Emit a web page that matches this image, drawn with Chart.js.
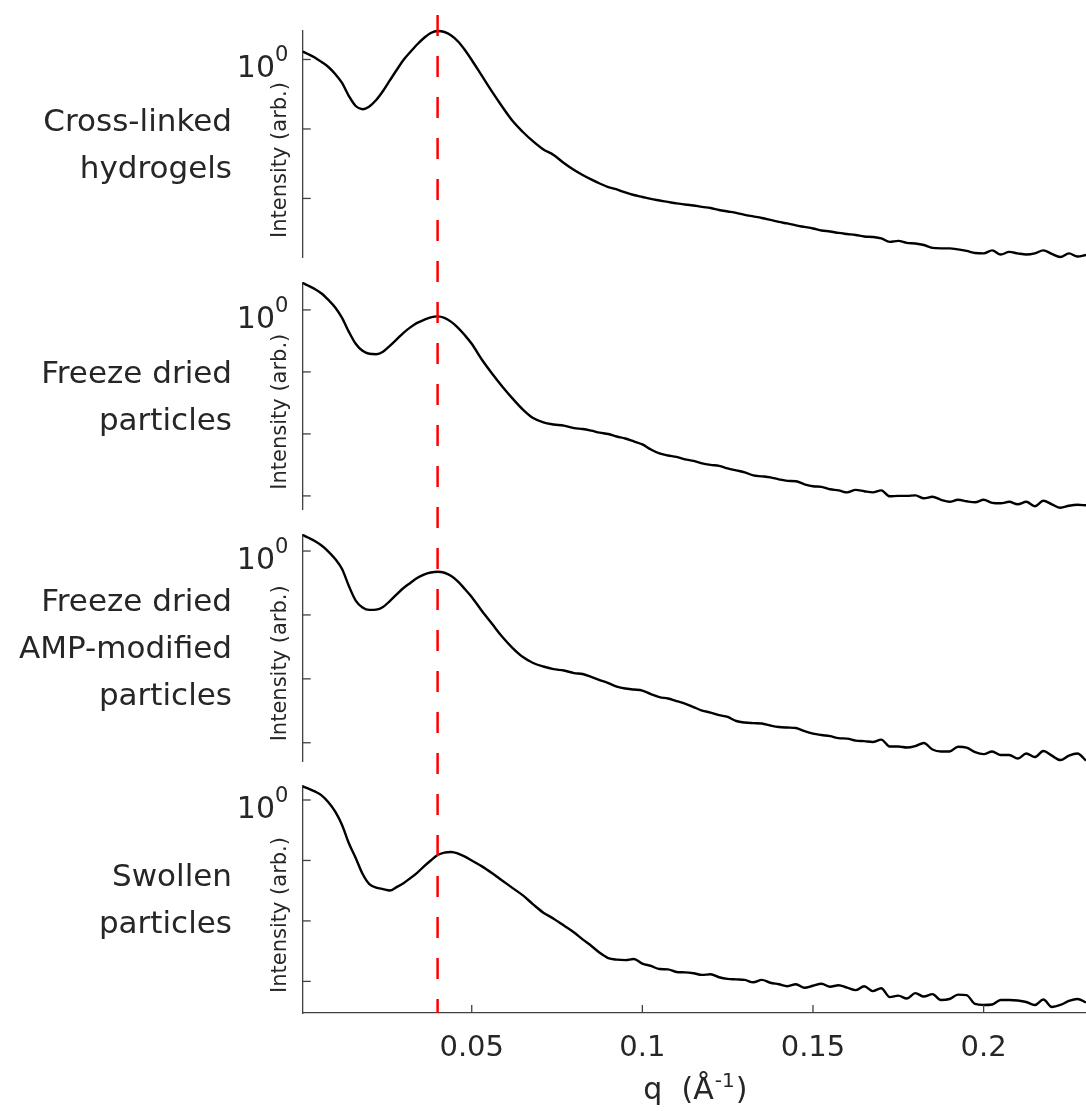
<!DOCTYPE html>
<html>
<head>
<meta charset="utf-8">
<script src="https://cdn.jsdelivr.net/npm/chart.js@4.4.1/dist/chart.umd.min.js"></script>
<style>
html,body{margin:0;padding:0;background:#fff;}
canvas{display:block;}
</style>
</head>
<body>
<canvas id="c" width="1086" height="1111"></canvas>
<script>
// ---- data ----
const q = [0.0005, 0.002, 0.004, 0.006, 0.008, 0.010, 0.012, 0.014, 0.016, 0.018, 0.020, 0.022, 0.024, 0.026, 0.028, 0.030, 0.032, 0.034, 0.036, 0.038, 0.040, 0.042, 0.044, 0.046, 0.048, 0.050,
  0.053, 0.056, 0.059, 0.062, 0.065, 0.068, 0.071, 0.074, 0.077, 0.080,
  0.0825, 0.085, 0.0875, 0.090, 0.0925, 0.095, 0.0975, 0.100, 0.1025, 0.105, 0.1075, 0.110, 0.1125, 0.115, 0.1175, 0.120, 0.1225, 0.125, 0.1275, 0.130,
  0.1325, 0.135, 0.1375, 0.140, 0.1425, 0.145, 0.1475, 0.150, 0.1525, 0.155, 0.1575, 0.160, 0.1625, 0.165, 0.1675, 0.170, 0.1725, 0.175, 0.1775, 0.180,
  0.1825, 0.185, 0.1875, 0.190, 0.1925, 0.195, 0.1975, 0.200, 0.2025, 0.205, 0.2075, 0.210, 0.2125, 0.215, 0.2175, 0.220, 0.2225, 0.225, 0.2275, 0.230];

const crossLinked = [1.295, 1.200, 1.069, 0.920, 0.780, 0.618, 0.459, 0.298, 0.214, 0.192, 0.211, 0.261, 0.352, 0.499, 0.706, 0.984, 1.282, 1.644, 2.039, 2.406, 2.571, 2.487, 2.214, 1.816, 1.370, 0.984,
  0.579, 0.341, 0.207, 0.130, 0.0905, 0.0661, 0.0507, 0.0423, 0.0324, 0.0257,
  0.0218, 0.0188, 0.0164, 0.0146, 0.0135, 0.0122, 0.0112, 0.0105, 0.00984, 0.00936,
  0.00891, 0.00848, 0.00820, 0.00793, 0.00755, 0.00730, 0.00683, 0.00650, 0.00619, 0.00579,
  0.00551, 0.00524, 0.00491, 0.00459, 0.00437, 0.00409, 0.00389, 0.00370, 0.00346, 0.00335,
  0.00319, 0.00308, 0.00298, 0.00284, 0.00279, 0.00266, 0.00237, 0.00245, 0.00229, 0.00225,
  0.00214, 0.00194, 0.00191, 0.00191, 0.00185, 0.00176, 0.00164, 0.00162, 0.00179, 0.00156,
  0.00170, 0.00162, 0.00156, 0.00162, 0.00179, 0.00159, 0.00144, 0.00162, 0.00146, 0.00154];

const freezeDried = [2.717, 2.477, 2.176, 1.842, 1.448, 1.097, 0.744, 0.443, 0.284, 0.219, 0.196, 0.193, 0.211, 0.264, 0.335, 0.427, 0.523, 0.618, 0.691, 0.758, 0.786, 0.744, 0.641, 0.514, 0.389, 0.284,
  0.157, 0.0935, 0.0578, 0.0371, 0.0247, 0.0180, 0.0153, 0.0142, 0.0136, 0.0124,
  0.0120, 0.0113, 0.0105, 0.00996, 0.00908, 0.00843, 0.00755, 0.00676, 0.00561, 0.00484,
  0.00449, 0.00425, 0.00388, 0.00367, 0.00334, 0.00316, 0.00305, 0.00278, 0.00258, 0.00240,
  0.00214, 0.00207, 0.00199, 0.00185, 0.00175, 0.00172, 0.00154, 0.00143, 0.00140, 0.00128,
  0.00123, 0.00114, 0.00125, 0.00119, 0.00114, 0.00123, 0.000985, 0.00100, 0.00100, 0.00102,
  0.000915, 0.000967, 0.000866, 0.000804, 0.000866, 0.000819, 0.000789, 0.000866, 0.000774, 0.000760,
  0.000804, 0.000733, 0.000804, 0.000681, 0.000834, 0.000733, 0.000644, 0.000693, 0.000719, 0.000706];

const freezeDriedAMP = [1.780, 1.627, 1.434, 1.219, 0.982, 0.750, 0.523, 0.283, 0.168, 0.131, 0.120, 0.121, 0.133, 0.165, 0.209, 0.264, 0.316, 0.378, 0.429, 0.461, 0.474, 0.457, 0.406, 0.333, 0.254, 0.191,
  0.115, 0.0720, 0.0451, 0.0303, 0.0219, 0.0177, 0.0156, 0.0142, 0.0135, 0.0123,
  0.0119, 0.0107, 0.00958, 0.00860, 0.00758, 0.00705, 0.00680, 0.00656, 0.00578, 0.00519,
  0.00492, 0.00449, 0.00411, 0.00362, 0.00319, 0.00297, 0.00271, 0.00253, 0.00219, 0.00207,
  0.00203, 0.00200, 0.00186, 0.00176, 0.00173, 0.00170, 0.00152, 0.00139, 0.00132, 0.00127,
  0.00118, 0.00116, 0.00108, 0.00106, 0.00103, 0.00112, 0.000872, 0.000872, 0.000841, 0.000888,
  0.000989, 0.000783, 0.000729, 0.000729, 0.000866, 0.000841, 0.000715, 0.000665, 0.000729, 0.000642,
  0.000642, 0.000566, 0.000678, 0.000597, 0.000742, 0.000630, 0.000536, 0.000630, 0.000678, 0.000526];

const swollen = [1.673, 1.552, 1.386, 1.193, 0.917, 0.642, 0.387, 0.193, 0.110, 0.0602, 0.0406, 0.0356, 0.0336, 0.0318, 0.0363, 0.0421, 0.0509, 0.0625, 0.0798, 0.100, 0.123, 0.135, 0.138, 0.130, 0.116, 0.100,
  0.0798, 0.0614, 0.0463, 0.0349, 0.0264, 0.0188, 0.0137, 0.0109, 0.00838, 0.00644,
  0.00495, 0.00388, 0.00298, 0.00243, 0.00229, 0.00225, 0.00234, 0.00197, 0.00180, 0.00160,
  0.00158, 0.00143, 0.00141, 0.00136, 0.00128, 0.00131, 0.00117, 0.00110, 0.00108, 0.00106,
  0.000967, 0.00106, 0.000949, 0.000897, 0.000832, 0.000897, 0.000786, 0.000848, 0.000914, 0.000816,
  0.000864, 0.000786, 0.000716, 0.000832, 0.000690, 0.000772, 0.000550, 0.000582, 0.000520, 0.000639,
  0.000561, 0.000616, 0.000492, 0.000511, 0.000605, 0.000593, 0.000423, 0.000407, 0.000415, 0.000492,
  0.000492, 0.000483, 0.000456, 0.000407, 0.000501, 0.000378, 0.000407, 0.000474, 0.000511, 0.000448];

const panelLabels = [
  ["Cross-linked", "hydrogels"],
  ["Freeze dried", "particles"],
  ["Freeze dried", "AMP-modified", "particles"],
  ["Swollen", "particles"]
];
const yTitle = "Intensity (arb.)";
const xTitleMain = "q  (\u00C5";
const xTitleSup = "-1";
const xTitleEnd = ")";
const xTicks = [0.05, 0.1, 0.15, 0.2];
const xTickLabels = ["0.05", "0.1", "0.15", "0.2"];
const yDecades = [1, 0.1, 0.01, 0.001];
const yLabelBase = "10";
const yLabelExp = "0";
const peakQ = [0.04];
const xRange = [0.00047, 0.23];
const yRanges = [[0.00139, 2.57], [0.000615, 2.75], [0.000512, 1.825], [0.000338, 1.704]];

// ---- styling ----
const FONT = '"DejaVu Sans", Verdana, sans-serif';
const TXT = '#262626';
const AX = '#404040';
const series = [crossLinked, freezeDried, freezeDriedAMP, swollen];
const yIds = ['y1', 'y2', 'y3', 'y4'];

const datasets = series.map((s, k) => ({
  data: q.map((x, i) => ({x: x, y: s[i]})),
  yAxisID: yIds[k],
  borderColor: '#000000',
  borderWidth: 2.4,
  pointRadius: 0,
  cubicInterpolationMode: 'monotone',
  fill: false,
  clip: false
}));

// left-positioned stacked scales are laid out in reverse order, so declare bottom panel first
const scales = {};
for (let k = yIds.length - 1; k >= 0; k--) {
  scales[yIds[k]] = {
    type: 'logarithmic', axis: 'y', position: 'left', stack: 'panels', stackWeight: 227,
    min: yRanges[k][0], max: yRanges[k][1],
    grid: {display: false},
    border: {display: true, color: AX, width: 1.3},
    ticks: {display: false},
    title: {display: false},
    afterFit: s => { s.width = 35.3; }
  };
  if (k > 0) {
    scales['gap' + k] = {type: 'linear', axis: 'y', position: 'left', stack: 'panels', stackWeight: 24.67, display: false};
  }
}
scales.x = {
  type: 'linear', position: 'bottom', min: xRange[0], max: xRange[1],
  grid: {display: false},
  border: {display: true, color: AX, width: 1.3},
  afterBuildTicks: s => { s.ticks = xTicks.map(v => ({value: v})); },
  ticks: {
    autoSkip: false, maxRotation: 0, minRotation: 0, padding: 10,
    color: TXT, font: {family: FONT, size: 29},
    callback: (v, i) => xTickLabels[i]
  },
  afterFit: s => { s.height = 98; }
};

const decor = {
  id: 'decor',
  afterDatasetsDraw(chart) {
    const ctx = chart.ctx, xs = chart.scales.x, area = chart.chartArea;
    ctx.save();
    ctx.strokeStyle = '#ff0000';
    ctx.lineWidth = 2.5;
    ctx.setLineDash([21, 20]);
    ctx.lineDashOffset = 0;
    peakQ.forEach(v => {
      const x = xs.getPixelForValue(v);
      ctx.beginPath();
      ctx.moveTo(x, area.top - 16);
      ctx.lineTo(x, area.bottom);
      ctx.stroke();
    });
    ctx.restore();
  },
  afterDraw(chart) {
    const ctx = chart.ctx, xs = chart.scales.x, area = chart.chartArea;
    ctx.save();
    ctx.strokeStyle = AX;
    ctx.lineWidth = 1.3;
    yIds.forEach((id, k) => {
      const s = chart.scales[id];
      // inward decade ticks
      yDecades.forEach(v => {
        if (v >= s.min && v <= s.max) {
          const y = s.getPixelForValue(v);
          ctx.beginPath();
          ctx.moveTo(area.left, y);
          ctx.lineTo(area.left + 8, y);
          ctx.stroke();
        }
      });
      // 10^0 label
      const y0 = s.getPixelForValue(yDecades[0]);
      ctx.fillStyle = TXT;
      ctx.textBaseline = 'alphabetic';
      ctx.font = '30px ' + FONT;
      ctx.textAlign = 'right';
      ctx.fillText(yLabelBase, 275, y0 + 18);
      ctx.font = '21px ' + FONT;
      ctx.textAlign = 'left';
      ctx.fillText(yLabelExp, 275, y0 + 2);
      // rotated axis title
      ctx.save();
      ctx.translate(281, s.bottom - 20);
      ctx.rotate(-Math.PI / 2);
      ctx.font = '21px ' + FONT;
      ctx.textAlign = 'left';
      ctx.textBaseline = 'middle';
      ctx.fillText(yTitle, 0, 0);
      ctx.restore();
      // panel name
      const lines = panelLabels[k];
      const cy = (s.top + s.bottom) / 2 + 2;
      ctx.font = '31px ' + FONT;
      ctx.textAlign = 'right';
      ctx.textBaseline = 'middle';
      lines.forEach((t, i) => {
        ctx.fillText(t, 232, cy + (i - (lines.length - 1) / 2) * 47);
      });
    });
    // inward x ticks
    xTicks.forEach(v => {
      const x = xs.getPixelForValue(v);
      ctx.beginPath();
      ctx.moveTo(x, area.bottom);
      ctx.lineTo(x, area.bottom - 8);
      ctx.stroke();
    });
    // x title with superscript
    ctx.fillStyle = TXT;
    ctx.textBaseline = 'alphabetic';
    ctx.textAlign = 'left';
    ctx.font = '30px ' + FONT;
    const w1 = ctx.measureText(xTitleMain).width;
    const w3 = ctx.measureText(xTitleEnd).width;
    ctx.font = '20px ' + FONT;
    const w2 = ctx.measureText(xTitleSup).width;
    const cx = (area.left + area.right) / 2;
    const x0 = cx - (w1 + w2 + w3) / 2;
    const by = 1099;
    ctx.font = '30px ' + FONT;
    ctx.fillText(xTitleMain, x0, by);
    ctx.font = '20px ' + FONT;
    ctx.fillText(xTitleSup, x0 + w1 + 1, by - 12);
    ctx.font = '30px ' + FONT;
    ctx.fillText(xTitleEnd, x0 + w1 + w2 + 2, by);
    ctx.restore();
  }
};

new Chart(document.getElementById('c'), {
  type: 'line',
  data: {datasets: datasets},
  options: {
    responsive: false,
    animation: false,
    devicePixelRatio: 1,
    events: [],
    layout: {padding: {left: 267.4, top: 31, right: 0, bottom: 0}},
    plugins: {legend: {display: false}, tooltip: {enabled: false}, title: {display: false}},
    scales: scales
  },
  plugins: [decor]
});
</script>
</body>
</html>
